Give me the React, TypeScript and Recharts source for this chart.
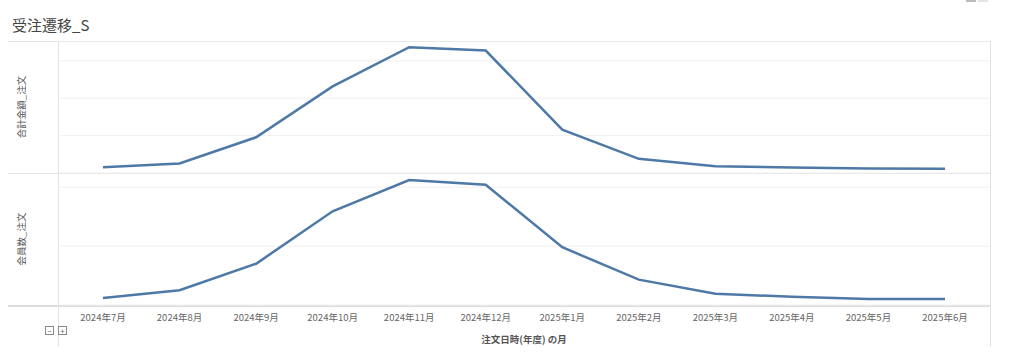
import { CartesianGrid, Line, LineChart, XAxis, YAxis } from "recharts";

const months = [
  "2024年7月",
  "2024年8月",
  "2024年9月",
  "2024年10月",
  "2024年11月",
  "2024年12月",
  "2025年1月",
  "2025年2月",
  "2025年3月",
  "2025年4月",
  "2025年5月",
  "2025年6月",
];

// 合計金額_注文 (円)
const amountValues = [
  1550000, 2530000, 9550000, 23150000, 33650000, 32750000, 11600000, 3790000, 1810000, 1470000,
  1200000, 1120000,
];
const amountTicks = [0, 10000000, 20000000, 30000000];
const amountMax = 35300000;

// 会員数_注文 (人)
const memberValues = [12, 25, 70, 159, 212, 204, 98, 43, 19, 14, 10, 10];
const memberTicks = [0, 100, 200];
const memberMax = 224;

const FONT = '"Noto Sans CJK JP", "Noto Sans", sans-serif';
const LINE_COLOR = "#4e79a7";
const BORDER = "#e2e2e2";

const chartData = months.map((m, i) => ({
  month: m,
  amount: amountValues[i],
  members: memberValues[i],
}));

function hLine(top: number, left = 8, right = 990, color = BORDER, h = 1) {
  return (
    <div
      style={{
        position: "absolute",
        left,
        top,
        width: right - left,
        height: h,
        background: color,
      }}
    />
  );
}

function vLine(left: number, top: number, bottom: number, color = BORDER) {
  return (
    <div
      style={{
        position: "absolute",
        left,
        top,
        width: 1,
        height: bottom - top,
        background: color,
      }}
    />
  );
}

function RowLabel({ text, center }: { text: string; center: number }) {
  return (
    <div
      style={{
        position: "absolute",
        left: 21,
        top: center,
        transform: "translate(-50%, -50%) rotate(-90deg)",
        whiteSpace: "nowrap",
        fontSize: 9.5,
        color: "#555",
      }}
    >
      {text}
    </div>
  );
}

function SmallBox({ left, sign }: { left: number; sign: string }) {
  return (
    <div
      style={{
        position: "absolute",
        left,
        top: 326,
        width: 7,
        height: 7,
        border: "1px solid #888",
        fontSize: 8,
        lineHeight: "7px",
        textAlign: "center",
        color: "#666",
      }}
    >
      {sign}
    </div>
  );
}

export default function App() {
  return (
    <div
      style={{
        position: "absolute",
        left: 0,
        top: 0,
        width: 1024,
        height: 360,
        background: "#fff",
        fontFamily: FONT,
        overflow: "hidden",
      }}
    >
      <div
        style={{
          position: "absolute",
          left: 12,
          top: 14,
          fontSize: 15,
          color: "#444",
          whiteSpace: "nowrap",
        }}
      >
        受注遷移_S
      </div>

      {/* top-right toolbar stubs */}
      <div style={{ position: "absolute", left: 966, top: 0, width: 10, height: 2, background: "#bbb" }} />
      <div style={{ position: "absolute", left: 978, top: 0, width: 10, height: 2, background: "#e4e4e4" }} />

      {/* pane borders */}
      {hLine(41)}
      {hLine(173)}
      {hLine(305, 8, 990, "#dcdcdc", 2)}
      {vLine(58, 41, 347)}
      {vLine(990, 41, 347)}

      <RowLabel text="合計金額_注文" center={107} />
      <RowLabel text="会員数_注文" center={239} />

      <div style={{ position: "absolute", left: 58, top: 41 }}>
        <LineChart width={932} height={132} data={chartData} margin={{ top: 0, right: 0, bottom: 0, left: 0 }}>
          <CartesianGrid vertical={false} stroke="#f0f0f0" />
          <XAxis dataKey="month" hide padding={{ left: 45, right: 45 }} />
          <YAxis hide domain={[0, amountMax]} ticks={amountTicks} allowDataOverflow />
          <Line
            type="linear"
            dataKey="amount"
            stroke={LINE_COLOR}
            strokeWidth={2.5}
            dot={false}
            activeDot={false}
            isAnimationActive={false}
          />
        </LineChart>
      </div>

      <div style={{ position: "absolute", left: 58, top: 173 }}>
        <LineChart width={932} height={154} data={chartData} margin={{ top: 0, right: 0, bottom: 0, left: 0 }}>
          <CartesianGrid vertical={false} stroke="#f0f0f0" />
          <XAxis
            dataKey="month"
            height={22}
            padding={{ left: 45, right: 45 }}
            axisLine={false}
            tickLine={{ stroke: "#eeeeee" }}
            tickSize={3}
            tickMargin={6}
            interval={0}
            tick={{ fill: "#666", fontSize: 9.5, fontFamily: FONT }}
          />
          <YAxis hide domain={[0, memberMax]} ticks={memberTicks} allowDataOverflow />
          <Line
            type="linear"
            dataKey="members"
            stroke={LINE_COLOR}
            strokeWidth={2.5}
            dot={false}
            activeDot={false}
            isAnimationActive={false}
          />
        </LineChart>
      </div>

      <div
        style={{
          position: "absolute",
          left: 524,
          top: 339,
          transform: "translate(-50%, -50%)",
          fontSize: 9.5,
          fontWeight: 700,
          color: "#555",
          whiteSpace: "nowrap",
        }}
      >
        注文日時(年度) の月
      </div>

      <SmallBox left={45} sign="−" />
      <SmallBox left={58} sign="+" />
    </div>
  );
}
